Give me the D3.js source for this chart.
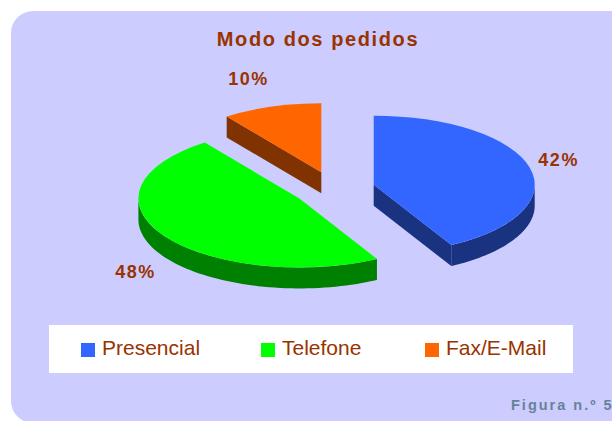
<!DOCTYPE html>
<html>
<head>
<meta charset="utf-8">
<script src="https://cdn.jsdelivr.net/npm/d3@7"></script>
<style>
  body { margin: 0; background: #fff; }
  text { font-family: Arial, "Liberation Sans", sans-serif; }
</style>
</head>
<body>
<div id="chart"></div>
<script>
// data
var categories = ["Presencial", "Telefone", "Fax/E-Mail"];
var values = [42, 48, 10];
var topColors = ["#3366FF", "#00FF00", "#FF6600"];
var sideColors = ["#1A3380", "#008000", "#803300"];
var title = "Modo dos pedidos";
var caption = "Figura n.º 5";

function createChart() {
  var width = 612, height = 421;
  // pie geometry (ellipse seen in perspective)
  var cx = 334, cy = 189, rx = 161, k = 69 / 161, depth = 21, explode = 41;

  var svg = d3.select("#chart").append("svg")
    .attr("width", width)
    .attr("height", height);

  // lavender panel
  svg.append("rect")
    .attr("x", 11).attr("y", 11)
    .attr("width", 640).attr("height", 412)
    .attr("rx", 22).attr("ry", 22)
    .attr("fill", "#CCCCFF");

  svg.append("text")
    .attr("x", 318).attr("y", 46)
    .attr("text-anchor", "middle")
    .attr("font-size", 20).attr("font-weight", "bold")
    .attr("letter-spacing", 1.6)
    .attr("fill", "#993300")
    .text(title);

  var pie = d3.pie().sort(null).value(d => d);
  var arcs = pie(values).map(function (d, i) {
    var mid = (d.startAngle + d.endAngle) / 2;
    d.i = i;
    d.mid = mid;
    d.cx = cx + explode * Math.sin(mid);
    d.cy = cy - explode * Math.cos(mid) * k;
    return d;
  });

  function pt(d, a, r, dz) {
    return [d.cx + r * Math.sin(a), d.cy - r * Math.cos(a) * k + (dz || 0)];
  }

  var line = d3.line();
  var topArc = d3.arc().innerRadius(0).outerRadius(rx);

  var order = arcs.slice().sort((a, b) => a.cy - b.cy);

  var slices = svg.append("g").selectAll("g")
    .data(order)
    .enter().append("g");

  slices.each(function (d) {
    var g = d3.select(this);
    var side = sideColors[d.i];

    // cut faces
    if (Math.sin(d.startAngle) < -1e-6) {
      var p = pt(d, d.startAngle, rx);
      g.append("path").attr("fill", side)
        .attr("d", line([[d.cx, d.cy], p, [p[0], p[1] + depth], [d.cx, d.cy + depth]]) + "Z");
    }
    if (Math.sin(d.endAngle) > 1e-6) {
      var q = pt(d, d.endAngle, rx);
      g.append("path").attr("fill", side)
        .attr("d", line([[d.cx, d.cy], q, [q[0], q[1] + depth], [d.cx, d.cy + depth]]) + "Z");
    }

    // outer wall, only the front half is visible
    var a0 = Math.max(d.startAngle, Math.PI / 2),
        a1 = Math.min(d.endAngle, Math.PI * 1.5);
    if (a1 > a0) {
      var n = 60, upper = [], lower = [];
      for (var j = 0; j <= n; j++) {
        var a = a0 + (a1 - a0) * j / n;
        upper.push(pt(d, a, rx));
        lower.unshift(pt(d, a, rx, depth));
      }
      g.append("path").attr("fill", side)
        .attr("d", line(upper.concat(lower)) + "Z");
    }

    // top face
    g.append("path")
      .attr("fill", topColors[d.i])
      .attr("transform", "translate(" + d.cx + "," + d.cy + ") scale(1," + k + ")")
      .attr("d", topArc(d));
  });

  // percentage labels
  var rl = rx + 9, kl = 0.575;
  svg.append("g")
    .attr("font-size", 18).attr("font-weight", "bold")
    .attr("letter-spacing", 1.5)
    .attr("fill", "#993300")
    .selectAll("text")
    .data(arcs)
    .enter().append("text")
    .attr("text-anchor", d => Math.sin(d.mid) < 0 ? "end" : "start")
    .attr("x", d => d.cx + rl * Math.sin(d.mid))
    .attr("y", d => d.cy - rl * Math.cos(d.mid) * kl + (Math.cos(d.mid) < 0 ? depth : 0) + 6)
    .text(d => d.data + "%");

  // legend
  var legend = svg.append("g");
  legend.append("rect")
    .attr("x", 49).attr("y", 325)
    .attr("width", 524).attr("height", 48)
    .attr("fill", "#fff");

  var legendX = d3.scaleOrdinal().domain(categories).range([81, 261, 425]);
  var items = legend.selectAll("g.item")
    .data(categories)
    .enter().append("g")
    .attr("class", "item")
    .attr("transform", d => "translate(" + legendX(d) + ",343)");
  items.append("rect")
    .attr("width", 14).attr("height", 14)
    .attr("fill", (d, i) => topColors[i]);
  items.append("text")
    .attr("x", 21).attr("y", 12)
    .attr("font-size", 21)
    .attr("fill", "#993300")
    .text(d => d);

  svg.append("text")
    .attr("x", 511).attr("y", 409.5)
    .attr("font-size", 14.5).attr("font-weight", "bold")
    .attr("letter-spacing", 2)
    .attr("fill", "#688199")
    .text(caption);
}

createChart();
</script>
</body>
</html>
